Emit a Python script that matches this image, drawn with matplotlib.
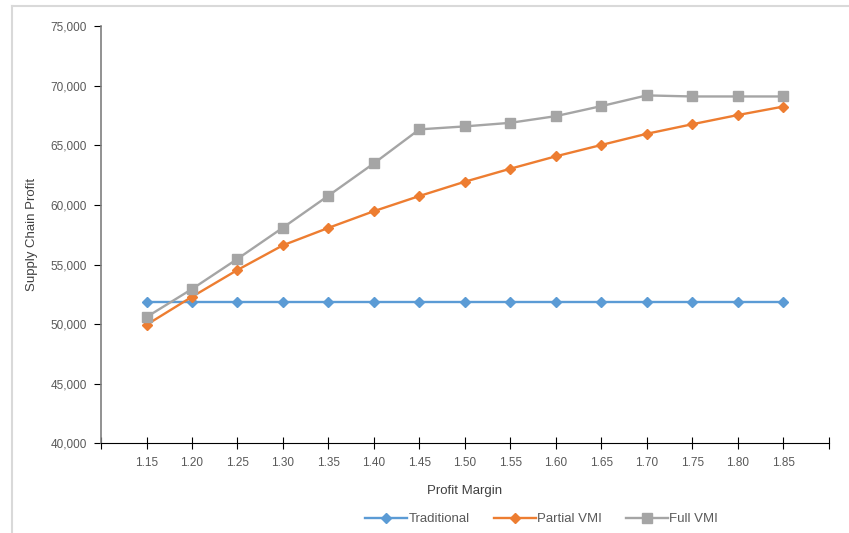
import matplotlib
matplotlib.use("Agg")
import matplotlib.pyplot as plt
from matplotlib.lines import Line2D
from matplotlib.ticker import FuncFormatter

plt.rcParams['font.family'] = ['Liberation Sans', 'DejaVu Sans']

margins = [1.15, 1.20, 1.25, 1.30, 1.35, 1.40, 1.45, 1.50,
           1.55, 1.60, 1.65, 1.70, 1.75, 1.80, 1.85]
traditional = [51850] * 15
partial_vmi = [49950, 52300, 54550, 56620, 58080, 59480, 60750, 61950,
               63040, 64080, 65030, 65970, 66770, 67540, 68250]
full_vmi = [50600, 52950, 55480, 58100, 60780, 63490, 66340, 66590,
            66890, 67450, 68290, 69190, 69100, 69100, 69100]

tick_pos = [1.10 + 0.05 * i for i in range(17)]
tick_labels = [''] + ['%.2f' % m for m in margins] + ['']

fig = plt.figure(figsize=(8.49, 5.33), dpi=100)
ax = fig.add_axes([0.119, 0.168, 0.857, 0.783])

ax.plot(margins, traditional, color='#5B9BD5', lw=1.7, marker='D', ms=5.5,
        label='Traditional')
ax.plot(margins, partial_vmi, color='#ED7D31', lw=1.7, marker='D', ms=5.5,
        label='Partial VMI')
ax.plot(margins, full_vmi, color='#A5A5A5', lw=1.7, marker='s', ms=7.5,
        label='Full VMI')

ax.set_xlim(1.10, 1.90)
ax.set_ylim(40000, 75000)
ax.set_xticks(tick_pos)
ax.set_xticklabels(tick_labels)
ax.set_yticks(range(40000, 75001, 5000))
ax.yaxis.set_major_formatter(FuncFormatter(lambda v, p: '{:,.0f}'.format(v)))

for s in ['top', 'right']:
    ax.spines[s].set_visible(False)
ax.spines['bottom'].set_color('black')
ax.spines['left'].set_color('#7F7F7F')
ax.spines['left'].set_linewidth(1.2)
ax.tick_params(axis='x', direction='inout', length=8, color='black',
               labelsize=8.5, labelcolor='#595959', pad=6)
ax.tick_params(axis='y', direction='out', length=5, color='black',
               labelsize=8.5, labelcolor='#595959', pad=5)

ax.set_xlabel('Profit Margin', fontsize=9.5, color='#404040', labelpad=11)
ax.set_ylabel('Supply Chain Profit', fontsize=9.5, color='#404040', labelpad=9)

fig.legend(loc='center', bbox_to_anchor=(0.638, 0.026), ncol=3, frameon=False,
           fontsize=9.5, labelcolor='#595959', handlelength=3.2,
           handletextpad=0.1, columnspacing=1.8)

# light chart-area border (top and left edges visible)
fig.add_artist(Line2D([12 / 849, 1.0], [1 - 6 / 533, 1 - 6 / 533],
                      transform=fig.transFigure, color='#D9D9D9', lw=1.5))
fig.add_artist(Line2D([12 / 849, 12 / 849], [0.0, 1 - 6 / 533],
                      transform=fig.transFigure, color='#D9D9D9', lw=1.5))

fig.savefig('out.png', dpi=100)
